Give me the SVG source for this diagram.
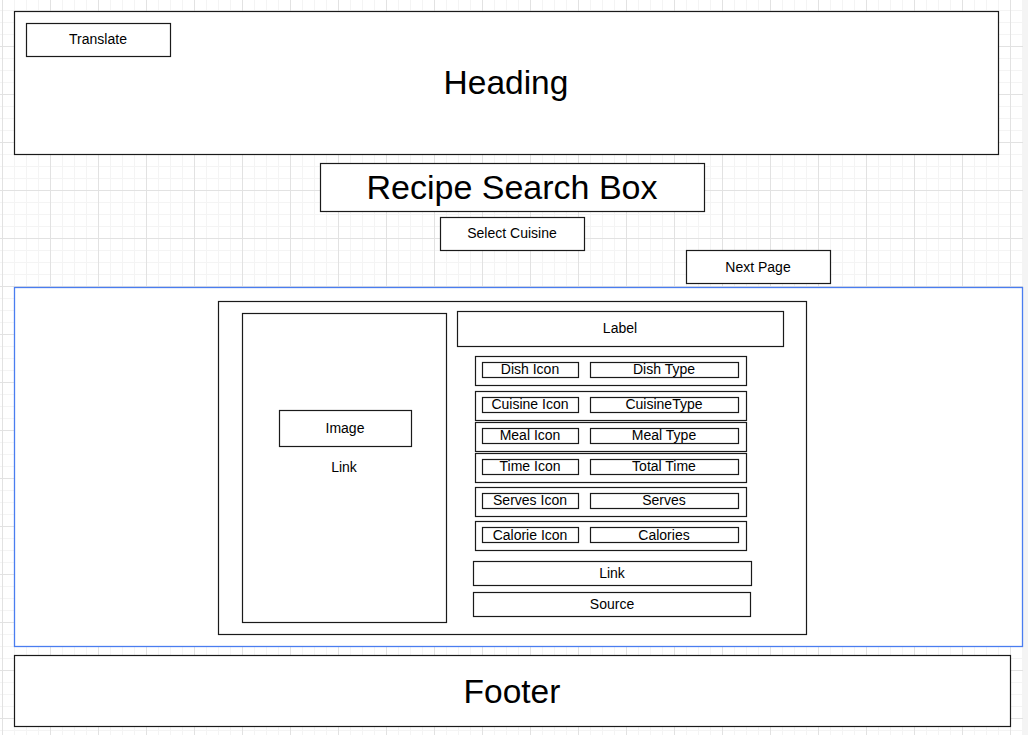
<svg xmlns="http://www.w3.org/2000/svg" width="1028" height="735" viewBox="0 0 1028 735">
<defs>
<pattern id="minor" patternUnits="userSpaceOnUse" x="2" y="-2" width="12" height="12">
<path d="M0.5 0V12M0 0.5H12" fill="none" stroke="#f4f4f4" stroke-width="1"/>
</pattern>
<pattern id="major" patternUnits="userSpaceOnUse" x="2" y="-2" width="48" height="48">
<path d="M0.5 0V48M0 0.5H48" fill="none" stroke="#e2e2e2" stroke-width="1"/>
</pattern>
<style>
.box{fill:#fff;stroke:#1a1a1a;stroke-width:1.2}
.t{font-family:"Liberation Sans",Arial,sans-serif;fill:#000;text-anchor:middle;dominant-baseline:central}
.s14{font-size:14px}
.s33{font-size:33.5px}
.s34{font-size:34px}
</style>
</defs>
<rect width="1028" height="735" fill="#fff"/>
<rect width="1028" height="735" fill="url(#minor)"/>
<rect width="1028" height="735" fill="url(#major)"/>
<rect x="1023" y="0" width="5" height="735" fill="#f4f4f4"/>

<g id="heading">
<rect class="box" x="14.5" y="11.5" width="984" height="143"/>
<text class="t s33" x="506" y="82">Heading</text>
</g>
<g id="translate">
<rect class="box" x="26.5" y="23.5" width="144" height="33"/>
<text class="t s14" x="98" y="39">Translate</text>
</g>
<g id="search">
<rect class="box" x="320.5" y="163.5" width="384" height="48"/>
<text class="t s34" x="512" y="187">Recipe Search Box</text>
</g>
<g id="select-cuisine">
<rect class="box" x="440.5" y="217.5" width="144" height="33"/>
<text class="t s14" x="512" y="233">Select Cuisine</text>
</g>
<g id="next-page">
<rect class="box" x="686.5" y="250.5" width="144" height="33"/>
<text class="t s14" x="758" y="267">Next Page</text>
</g>
<g id="results">
<rect x="14.5" y="287.5" width="1008" height="359" fill="#fff" stroke="#4a7df0" stroke-width="1.3"/>
</g>
<g id="card">
<rect class="box" x="218.5" y="301.5" width="588" height="333"/>
</g>
<g id="image-panel">
<rect class="box" x="242.5" y="313.5" width="204" height="309"/>
</g>
<g id="image">
<rect class="box" x="279.5" y="410.5" width="132" height="36"/>
<text class="t s14" x="345" y="428">Image</text>
</g>
<g id="image-link">
<text class="t s14" x="344" y="467">Link</text>
</g>
<g id="label">
<rect class="box" x="457.5" y="311.5" width="326" height="35"/>
<text class="t s14" x="620" y="328">Label</text>
</g>
<g id="row-dish">
<rect class="box" x="475.5" y="356.5" width="271" height="29"/>
<rect class="box" x="482.5" y="362.5" width="96" height="15"/>
<rect class="box" x="590.5" y="362.5" width="148" height="15"/>
<text class="t s14" x="530" y="369">Dish Icon</text>
<text class="t s14" x="664" y="369">Dish Type</text>
</g>
<g id="row-cuisine">
<rect class="box" x="475.5" y="391.5" width="271" height="29"/>
<rect class="box" x="482.5" y="397.5" width="96" height="15"/>
<rect class="box" x="590.5" y="397.5" width="148" height="15"/>
<text class="t s14" x="530" y="404">Cuisine Icon</text>
<text class="t s14" x="664" y="404">CuisineType</text>
</g>
<g id="row-meal">
<rect class="box" x="475.5" y="422.5" width="271" height="29"/>
<rect class="box" x="482.5" y="428.5" width="96" height="15"/>
<rect class="box" x="590.5" y="428.5" width="148" height="15"/>
<text class="t s14" x="530" y="435">Meal Icon</text>
<text class="t s14" x="664" y="435">Meal Type</text>
</g>
<g id="row-time">
<rect class="box" x="475.5" y="453.5" width="271" height="29"/>
<rect class="box" x="482.5" y="459.5" width="96" height="15"/>
<rect class="box" x="590.5" y="459.5" width="148" height="15"/>
<text class="t s14" x="530" y="466">Time Icon</text>
<text class="t s14" x="664" y="466">Total Time</text>
</g>
<g id="row-serves">
<rect class="box" x="475.5" y="487.5" width="271" height="29"/>
<rect class="box" x="482.5" y="493.5" width="96" height="15"/>
<rect class="box" x="590.5" y="493.5" width="148" height="15"/>
<text class="t s14" x="530" y="500">Serves Icon</text>
<text class="t s14" x="664" y="500">Serves</text>
</g>
<g id="row-calorie">
<rect class="box" x="475.5" y="521.5" width="271" height="29"/>
<rect class="box" x="482.5" y="527.5" width="96" height="15"/>
<rect class="box" x="590.5" y="527.5" width="148" height="15"/>
<text class="t s14" x="530" y="535">Calorie Icon</text>
<text class="t s14" x="664" y="535">Calories</text>
</g>
<g id="link">
<rect class="box" x="473.5" y="561.5" width="278" height="24"/>
<text class="t s14" x="612" y="573">Link</text>
</g>
<g id="source">
<rect class="box" x="473.5" y="592.5" width="277" height="24"/>
<text class="t s14" x="612" y="604">Source</text>
</g>
<g id="footer">
<rect class="box" x="14.5" y="655.5" width="996" height="71"/>
<text class="t s33" x="512" y="691">Footer</text>
</g>
<g id="connectors"></g>
</svg>
